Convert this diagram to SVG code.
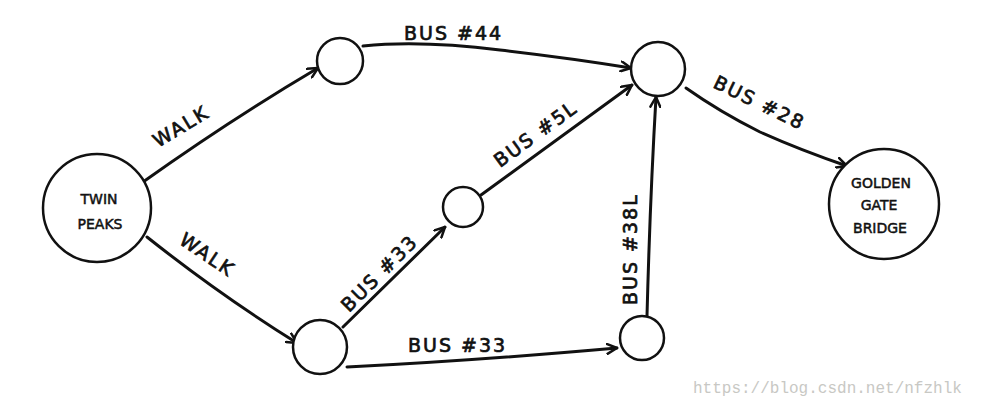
<svg xmlns="http://www.w3.org/2000/svg" width="984" height="406" viewBox="0 0 984 406">
<style>
.node{fill:#fff;stroke:#111;stroke-width:2.5}
.edge{fill:none;stroke:#111;stroke-width:3;stroke-linecap:round}
.lbl{font-family:"DejaVu Sans",sans-serif;font-size:19px;fill:#111;stroke:#111;stroke-width:0.7;letter-spacing:2px}
.nt{font-family:"DejaVu Sans",sans-serif;font-size:14px;fill:#111;stroke:#111;stroke-width:0.5;text-anchor:middle}
.wm{font-family:"Liberation Mono",monospace;font-size:16px;fill:#c8c8c4}
</style>
<defs>
<marker id="arr" viewBox="0 0 12 12" refX="11" refY="6" markerWidth="12" markerHeight="12" markerUnits="userSpaceOnUse" orient="auto">
<path d="M1,1 L11,6 L1,11" fill="none" stroke="#111" stroke-width="2.5" stroke-linecap="round" stroke-linejoin="round"/>
</marker>
</defs>
<rect width="984" height="406" fill="#fff"/>
<g id="connectors">
<path class="edge" d="M143,182 Q230,120 318,68" marker-end="url(#arr)"/>
<path class="edge" d="M147,237 Q220,295 297,343" marker-end="url(#arr)"/>
<path class="edge" d="M363,46 Q420,40 500,50 Q570,58 631,68" marker-end="url(#arr)"/>
<path class="edge" d="M343,327 L445,227" marker-end="url(#arr)"/>
<path class="edge" d="M481,195 L632,85" marker-end="url(#arr)"/>
<path class="edge" d="M347,367 Q470,361 617,348" marker-end="url(#arr)"/>
<path class="edge" d="M647,316 Q650,200 656,97" marker-end="url(#arr)"/>
<path class="edge" d="M686,88 Q720,112 760,132 Q800,150 847,166" marker-end="url(#arr)"/>
</g>
<g id="labels">
<text class="lbl" transform="translate(158,148) rotate(-31)">WALK</text>
<text class="lbl" transform="translate(178,243) rotate(34)">WALK</text>
<text class="lbl" x="404" y="40">BUS #44</text>
<text class="lbl" transform="translate(349,313) rotate(-45)">BUS #33</text>
<text class="lbl" transform="translate(500,168) rotate(-36)">BUS #5L</text>
<text class="lbl" x="408" y="352">BUS #33</text>
<text class="lbl" transform="translate(637,305) rotate(-90)">BUS #38L</text>
<text class="lbl" transform="translate(712,87) rotate(26)">BUS #28</text>
</g>
<g id="twin-peaks">
<circle class="node" cx="97" cy="208" r="54"/>
<text class="nt" x="99" y="204">TWIN</text>
<text class="nt" x="100" y="229">PEAKS</text>
</g>
<g id="n-top"><circle class="node" cx="340" cy="61" r="23"/></g>
<g id="n-hub"><circle class="node" cx="658" cy="69" r="27"/></g>
<g id="n-mid"><circle class="node" cx="463" cy="207" r="20"/></g>
<g id="n-bl"><circle class="node" cx="320" cy="347" r="27"/></g>
<g id="n-br"><circle class="node" cx="642" cy="338" r="22"/></g>
<g id="golden-gate">
<circle class="node" cx="884" cy="204" r="55"/>
<text class="nt" x="881" y="188">GOLDEN</text>
<text class="nt" x="879" y="210">GATE</text>
<text class="nt" x="880" y="233">BRIDGE</text>
</g>
<text class="wm" x="693" y="393">https://blog.csdn.net/nfzhlk</text>
</svg>
